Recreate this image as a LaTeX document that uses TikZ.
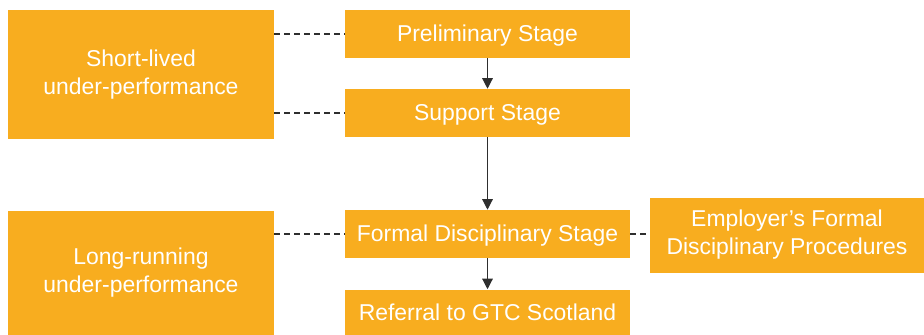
\documentclass[tikz,border=0pt]{standalone}
\usepackage{fontspec}
\setmainfont{Liberation Sans}
\usetikzlibrary{arrows.meta}
\definecolor{boxorange}{HTML}{F8AD1F}
\definecolor{linegray}{HTML}{2E2E2E}
\tikzset{
  box/.style={fill=boxorange, draw=none, text=white, align=center, inner sep=0pt,
    font=\fontsize{17.2pt}{21pt}\selectfont},
  singlebox/.style={box, minimum width=285*0.75pt, minimum height=48*0.75pt,
    text height=11.6pt, text depth=0pt},
  dashline/.style={draw=linegray, line width=0.9pt, dash pattern=on 4.5pt off 3pt},
  flowarrow/.style={draw=linegray, line width=0.9pt, -{Triangle[width=8pt,length=8pt]}}
}
\begin{document}
\begin{tikzpicture}[x=0.75pt,y=-0.75pt]
\useasboundingbox (0,0) rectangle (924,335);
\node[box, minimum width=266*0.75pt, minimum height=128*0.75pt] (short) at (141,74.5) {Short-lived\\under-performance};
\node[singlebox] (prelim) at (487.5,34) {Preliminary Stage};
\node[singlebox] (support) at (487.5,113) {Support Stage};
\node[box, minimum width=266*0.75pt, minimum height=125*0.75pt] (long) at (141,273) {Long-running\\under-performance};
\node[singlebox] (formal) at (487.5,234) {Formal Disciplinary Stage};
\node[box, minimum width=274*0.75pt, minimum height=75*0.75pt] (employer) at (787,235) {Employer’s Formal\\Disciplinary Procedures};
\node[singlebox, minimum height=46*0.75pt] (referral) at (487.5,312.5) {Referral to GTC Scotland};
\draw[dashline] (short.east |- prelim.west) -- (prelim.west);
\draw[dashline] (short.east |- support.west) -- (support.west);
\draw[dashline] (long.east |- formal.west) -- (formal.west);
\draw[dashline] (formal.east) -- (employer.west |- formal.east);
\draw[flowarrow] (prelim) -- (support);
\draw[flowarrow] (support) -- (formal);
\draw[flowarrow] (formal) -- (referral);
\end{tikzpicture}
\end{document}
